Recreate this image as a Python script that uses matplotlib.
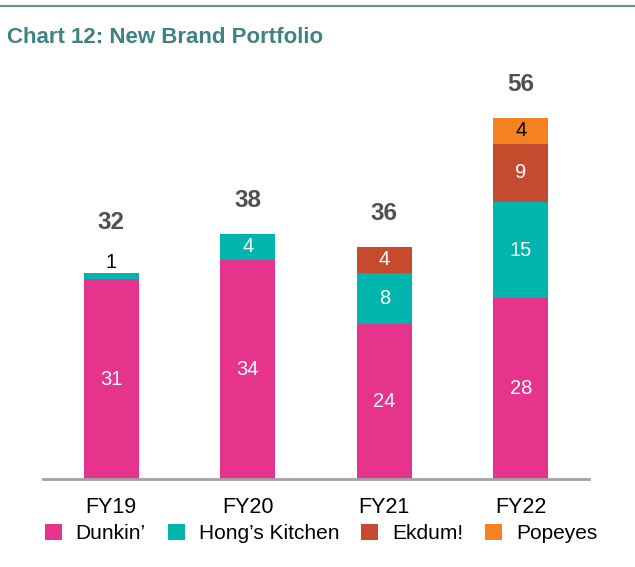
import matplotlib
matplotlib.use('Agg')
import matplotlib.pyplot as plt
import numpy as np

plt.rcParams['font.family'] = ['Liberation Sans', 'DejaVu Sans']

years = ['FY19', 'FY20', 'FY21', 'FY22']
brands = ["Dunkin\u2019", "Hong\u2019s Kitchen", 'Ekdum!', 'Popeyes']
dunkin = [31, 34, 24, 28]
hongs = [1, 4, 8, 15]
ekdum = [0, 0, 4, 9]
popeyes = [0, 0, 0, 4]
totals = [32, 38, 36, 56]

colors = ['#E6338B', '#00B5AD', '#C64B2E', '#F58220']
label_colors = ['white', 'white', 'white', 'black']

fig = plt.figure(figsize=(6.35, 5.67), dpi=100)
ax = fig.add_axes([43 / 635, (567 - 479) / 567, 546 / 635, 387 / 567])

x = np.arange(len(years))
bottom = np.zeros(len(years))
series = [dunkin, hongs, ekdum, popeyes]
for vals, name, col, lc in zip(series, brands, colors, label_colors):
    vals = np.array(vals, dtype=float)
    ax.bar(x, vals, 0.4, bottom=bottom, color=col, label=name, zorder=2)
    for i, v in enumerate(vals):
        if v == 0:
            continue
        if v < 2:
            # too thin, put the number over the bar
            ax.annotate(f'{int(v)}', (x[i], bottom[i] + v), xytext=(0, 7),
                        textcoords='offset points', ha='center', va='center',
                        fontsize=14.5, color='black')
        else:
            ax.text(x[i], bottom[i] + v / 2, f'{int(v)}', ha='center',
                    va='center', fontsize=14.5, color=lc)
    bottom += vals

for i, t in enumerate(totals):
    top_seg = [s[i] for s in series if s[i] > 0][-1]
    off = 36 if top_seg < 2 else 24
    ax.annotate(str(t), (x[i], t), xytext=(0, off), textcoords='offset points',
                ha='center', va='center', fontsize=17.5, fontweight='bold',
                color='#505050', annotation_clip=False)

ax.set_xlim(-0.5, 3.5)
ax.set_ylim(0, 60)
ax.set_xticks(x)
ax.set_xticklabels(years, fontsize=15.5)
ax.tick_params(axis='x', length=0, pad=13)
ax.set_yticks([])
for s in ['top', 'right', 'left']:
    ax.spines[s].set_visible(False)
ax.spines['bottom'].set_color('#A3A3A3')
ax.spines['bottom'].set_linewidth(2)
ax.spines['bottom'].set_zorder(3)

fig.legend(loc='center', bbox_to_anchor=(321 / 635, 1 - 533.5 / 567), ncol=4,
           fontsize=15, frameon=False, handlelength=0.82, handleheight=0.82,
           handletextpad=0.67, columnspacing=1.05, borderaxespad=0)

fig.add_artist(plt.Line2D([0, 1], [1 - 5.5 / 567, 1 - 5.5 / 567],
                          color='#5E9494', linewidth=1.5))
fig.text(7 / 635, 1 - 43 / 567, 'Chart 12: New Brand Portfolio', fontsize=16,
         fontweight='bold', color='#3E8282', va='baseline', ha='left')

fig.savefig('out.png', dpi=100)
